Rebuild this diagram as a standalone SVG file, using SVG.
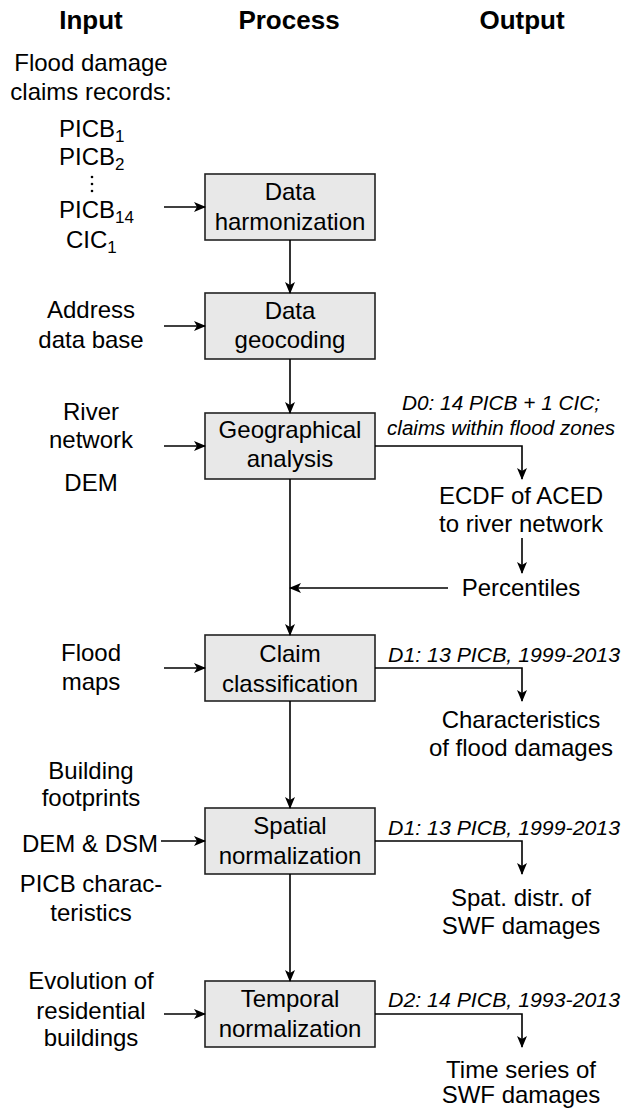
<svg xmlns="http://www.w3.org/2000/svg" width="624" height="1108" viewBox="0 0 624 1108">
<style>
text{font-family:"Liberation Sans",Arial,sans-serif;fill:#000}
.t{font-size:26px;font-weight:bold;text-anchor:middle}
.r{font-size:24px;text-anchor:middle}
.p{font-size:24px}
.i{font-size:20px;font-style:italic;text-anchor:middle}
.s{font-size:17px}
.box{fill:#e8e8e8;stroke:#222;stroke-width:1.6}
.ln{fill:none;stroke:#000;stroke-width:1.6}
</style>
<defs>
<marker id="ah" markerWidth="12" markerHeight="10" refX="11" refY="5" orient="auto" markerUnits="userSpaceOnUse">
<path d="M0,0 L12,5 L0,10 L3,5 Z" fill="#000"/>
</marker>
</defs>
<g id="titles">
<text class="t" x="91" y="29">Input</text>
<text class="t" x="289" y="29">Process</text>
<text class="t" x="522" y="29">Output</text>
</g>
<g id="in-claims">
<text class="r" x="91" y="71">Flood damage</text>
<text class="r" x="91" y="100">claims records:</text>
<text class="p" x="59" y="137">PICB<tspan class="s" dy="5">1</tspan></text>
<text class="p" x="59" y="165">PICB<tspan class="s" dy="5">2</tspan></text>
<circle cx="92" cy="177" r="1.3"/><circle cx="92" cy="184" r="1.3"/><circle cx="92" cy="191" r="1.3"/>
<text class="p" x="59" y="218">PICB<tspan class="s" dy="5">14</tspan></text>
<text class="p" x="66" y="248">CIC<tspan class="s" dy="5">1</tspan></text>
</g>
<g id="in-address">
<text class="r" x="91" y="318">Address</text>
<text class="r" x="91" y="348">data base</text>
</g>
<g id="in-river">
<text class="r" x="91" y="420">River</text>
<text class="r" x="91" y="448">network</text>
<text class="r" x="91" y="491">DEM</text>
</g>
<g id="in-flood">
<text class="r" x="91" y="661">Flood</text>
<text class="r" x="91" y="690">maps</text>
</g>
<g id="in-building">
<text class="r" x="91" y="779">Building</text>
<text class="r" x="91" y="806">footprints</text>
<text class="r" x="90" y="852">DEM &amp; DSM</text>
<text class="r" x="91" y="892">PICB charac-</text>
<text class="r" x="91" y="921">teristics</text>
</g>
<g id="in-evolution">
<text class="r" x="91" y="989">Evolution of</text>
<text class="r" x="91" y="1019">residential</text>
<text class="r" x="91" y="1046">buildings</text>
</g>
<g id="p-harmonization">
<rect class="box" x="205" y="174" width="170" height="66"/>
<text class="r" x="290" y="200">Data</text>
<text class="r" x="290" y="230">harmonization</text>
</g>
<g id="p-geocoding">
<rect class="box" x="205" y="293" width="170" height="66"/>
<text class="r" x="290" y="319">Data</text>
<text class="r" x="290" y="348">geocoding</text>
</g>
<g id="p-geographical">
<rect class="box" x="205" y="413" width="170" height="66"/>
<text class="r" x="290" y="438">Geographical</text>
<text class="r" x="290" y="467">analysis</text>
</g>
<g id="p-classification">
<rect class="box" x="205" y="635" width="170" height="66"/>
<text class="r" x="290" y="662">Claim</text>
<text class="r" x="290" y="692">classification</text>
</g>
<g id="p-spatial">
<rect class="box" x="205" y="808" width="170" height="66"/>
<text class="r" x="290" y="834">Spatial</text>
<text class="r" x="290" y="864">normalization</text>
</g>
<g id="p-temporal">
<rect class="box" x="205" y="981" width="170" height="66"/>
<text class="r" x="290" y="1007">Temporal</text>
<text class="r" x="290" y="1037">normalization</text>
</g>
<g id="out-ecdf">
<text class="i" x="501" y="410" textLength="198" lengthAdjust="spacingAndGlyphs">D0: 14 PICB + 1 CIC;</text>
<text class="i" x="501" y="435" textLength="228" lengthAdjust="spacingAndGlyphs">claims within flood zones</text>
<text class="r" x="521" y="504">ECDF of ACED</text>
<text class="r" x="521" y="532">to river network</text>
</g>
<g id="out-percentiles">
<text class="r" x="521" y="596">Percentiles</text>
</g>
<g id="out-characteristics">
<text class="i" x="504" y="662" textLength="232" lengthAdjust="spacingAndGlyphs">D1: 13 PICB, 1999-2013</text>
<text class="r" x="521" y="728">Characteristics</text>
<text class="r" x="521" y="756">of flood damages</text>
</g>
<g id="out-spatial">
<text class="i" x="504" y="835" textLength="232" lengthAdjust="spacingAndGlyphs">D1: 13 PICB, 1999-2013</text>
<text class="r" x="521" y="906">Spat. distr. of</text>
<text class="r" x="521" y="934">SWF damages</text>
</g>
<g id="out-time">
<text class="i" x="504" y="1007" textLength="232" lengthAdjust="spacingAndGlyphs">D2: 14 PICB, 1993-2013</text>
<text class="r" x="521" y="1078">Time series of</text>
<text class="r" x="521" y="1103">SWF damages</text>
</g>
<g id="connectors" class="ln">
<line x1="164" y1="207" x2="205" y2="207" marker-end="url(#ah)"/>
<line x1="164" y1="326" x2="205" y2="326" marker-end="url(#ah)"/>
<line x1="164" y1="446" x2="205" y2="446" marker-end="url(#ah)"/>
<line x1="164" y1="668" x2="205" y2="668" marker-end="url(#ah)"/>
<line x1="161" y1="841" x2="205" y2="841" marker-end="url(#ah)"/>
<line x1="164" y1="1014" x2="205" y2="1014" marker-end="url(#ah)"/>
<line x1="290" y1="240" x2="290" y2="293" marker-end="url(#ah)"/>
<line x1="290" y1="359" x2="290" y2="413" marker-end="url(#ah)"/>
<line x1="290" y1="479" x2="290" y2="635" marker-end="url(#ah)"/>
<line x1="290" y1="701" x2="290" y2="808" marker-end="url(#ah)"/>
<line x1="290" y1="874" x2="290" y2="981" marker-end="url(#ah)"/>
<polyline points="375,446 522,446 522,479" marker-end="url(#ah)"/>
<line x1="522" y1="538" x2="522" y2="573" marker-end="url(#ah)"/>
<line x1="448" y1="588" x2="290" y2="588" marker-end="url(#ah)"/>
<polyline points="375,668 522,668 522,701" marker-end="url(#ah)"/>
<polyline points="375,841 522,841 522,874" marker-end="url(#ah)"/>
<polyline points="375,1014 522,1014 522,1047" marker-end="url(#ah)"/>
</g>
</svg>
